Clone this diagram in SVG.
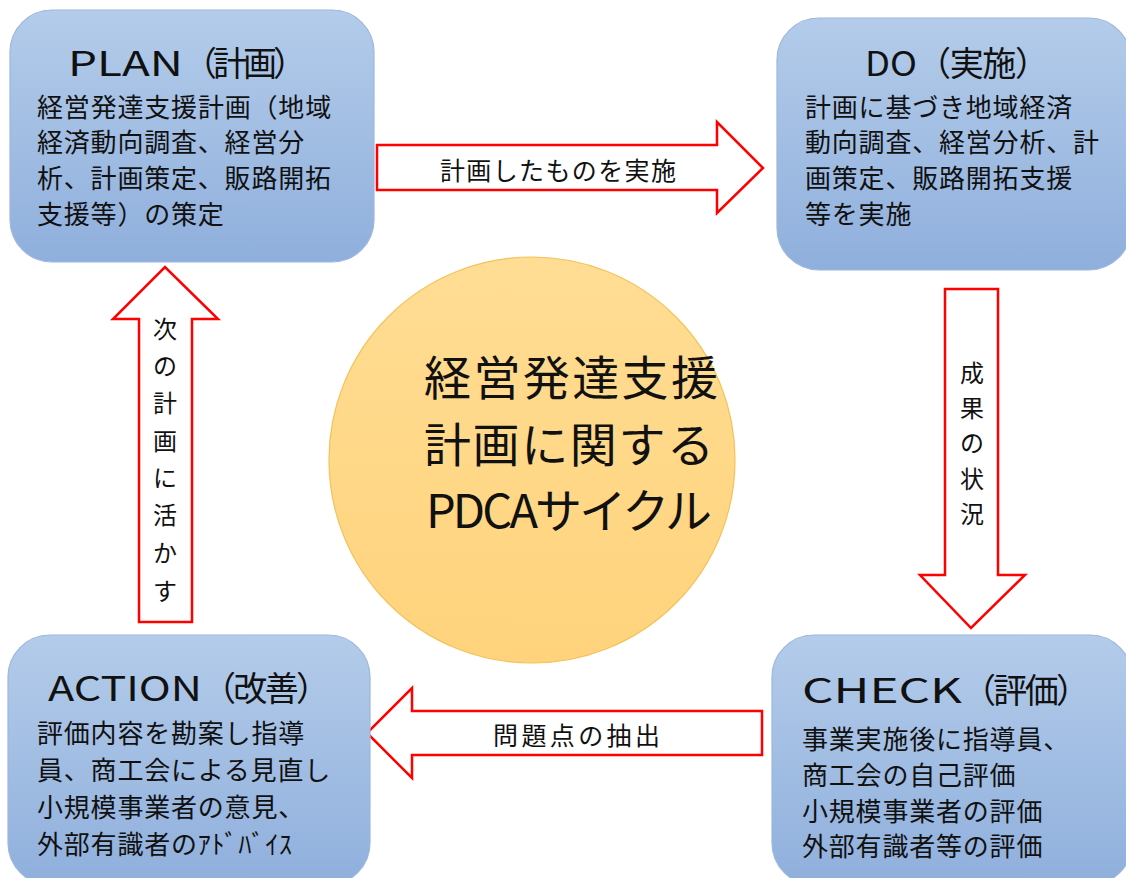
<svg xmlns="http://www.w3.org/2000/svg" width="1126" height="878" viewBox="0 0 1126 878">
<defs>
<linearGradient id="boxg" x1="0" y1="0" x2="0" y2="1">
<stop offset="0" stop-color="#B4CCEA"/>
<stop offset="1" stop-color="#8FAFDC"/>
</linearGradient>
<linearGradient id="circg" x1="0" y1="0" x2="0" y2="1">
<stop offset="0" stop-color="#FFDD94"/>
<stop offset="1" stop-color="#FFD37C"/>
</linearGradient>
<style>
.box{fill:url(#boxg);stroke:#9DB7DE;stroke-width:1.2}
.arrow{fill:#FFFFFF;stroke:#FF0000;stroke-width:2.5;stroke-linejoin:miter}
.t{font-family:"Noto Sans CJK JP","Noto Sans",sans-serif;fill:#111111}
.title{font-size:34px}
.body{font-size:26px;letter-spacing:0.8px}
.lbl{font-size:25px}
.vl{font-size:24px;text-anchor:middle}
.center{font-size:47px}
</style>
</defs>
<rect width="1126" height="878" fill="#FFFFFF"/>

<g id="center">
<circle cx="532" cy="460" r="203" fill="url(#circg)" stroke="#F3C25A" stroke-width="1.2"/>
<text class="t center" x="424" y="395" textLength="294">経営発達支援</text>
<text class="t center" x="424" y="462" textLength="290">計画に関する</text>
<text class="t center" x="426" y="528" textLength="286">PDCAサイクル</text>
</g>

<g id="connectors">
<g id="arrow-plan-do">
<path class="arrow" d="M377,145 L717,145 L717,122 L763,168 L717,213 L717,190 L377,190 Z"/>
<text class="t lbl" x="440" y="180" textLength="236">計画したものを実施</text>
</g>
<g id="arrow-do-check">
<path class="arrow" d="M945,289 L998,289 L998,575 L1025,575 L971,628 L920,575 L945,575 Z"/>
<text class="t vl" x="972" y="382">成</text>
<text class="t vl" x="972" y="417">果</text>
<text class="t vl" x="972" y="452">の</text>
<text class="t vl" x="972" y="488">状</text>
<text class="t vl" x="972" y="523">況</text>
</g>
<g id="arrow-check-action">
<path class="arrow" d="M762,711 L762,755 L412,755 L412,778 L367,733 L412,688 L412,711 Z"/>
<text class="t lbl" x="493" y="745" textLength="167">問題点の抽出</text>
</g>
<g id="arrow-action-plan">
<path class="arrow" d="M139,622 L192,622 L192,319 L218,319 L165,267 L113,319 L139,319 Z"/>
<text class="t vl" x="165" y="338">次</text>
<text class="t vl" x="165" y="375">の</text>
<text class="t vl" x="165" y="412">計</text>
<text class="t vl" x="165" y="450">画</text>
<text class="t vl" x="165" y="487">に</text>
<text class="t vl" x="165" y="524">活</text>
<text class="t vl" x="165" y="562">か</text>
<text class="t vl" x="165" y="600">す</text>
</g>
</g>

<g id="plan">
<rect class="box" x="10" y="10" width="364" height="252" rx="42"/>
<text class="t title" x="68" y="76" textLength="115" lengthAdjust="spacingAndGlyphs">PLAN</text>
<text class="t title" x="183" y="76" textLength="124">（計画）</text>
<text class="t body" x="37" y="117" textLength="295">経営発達支援計画（地域</text>
<text class="t body" x="37" y="152">経済動向調査、経営分</text>
<text class="t body" x="37" y="188">析、計画策定、販路開拓</text>
<text class="t body" x="37" y="224">支援等）の策定</text>
</g>

<g id="do">
<rect class="box" x="777" y="18" width="354" height="252" rx="42"/>
<text class="t title" x="865" y="76" textLength="52" lengthAdjust="spacingAndGlyphs">DO</text>
<text class="t title" x="917" y="76" textLength="132">（実施）</text>
<text class="t body" x="805" y="117">計画に基づき地域経済</text>
<text class="t body" x="805" y="152">動向調査、経営分析、計</text>
<text class="t body" x="805" y="188">画策定、販路開拓支援</text>
<text class="t body" x="805" y="224">等を実施</text>
</g>

<g id="action">
<rect class="box" x="8" y="635" width="362" height="250" rx="42"/>
<text class="t title" x="48" y="701" textLength="154" lengthAdjust="spacingAndGlyphs">ACTION</text>
<text class="t title" x="202" y="701" textLength="128">（改善）</text>
<text class="t body" x="37" y="743">評価内容を勘案し指導</text>
<text class="t body" x="37" y="780">員、商工会による見直し</text>
<text class="t body" x="37" y="817">小規模事業者の意見、</text>
<text class="t body" x="37" y="854">外部有識者のｱﾄﾞﾊﾞｲｽ</text>
</g>

<g id="check">
<rect class="box" x="772" y="635" width="360" height="250" rx="42"/>
<text class="t title" x="802" y="703" textLength="160" lengthAdjust="spacingAndGlyphs">CHECK</text>
<text class="t title" x="962" y="703" textLength="128">（評価）</text>
<text class="t body" x="802" y="749">事業実施後に指導員、</text>
<text class="t body" x="802" y="785">商工会の自己評価</text>
<text class="t body" x="802" y="821">小規模事業者の評価</text>
<text class="t body" x="802" y="856">外部有識者等の評価</text>
</g>
</svg>
